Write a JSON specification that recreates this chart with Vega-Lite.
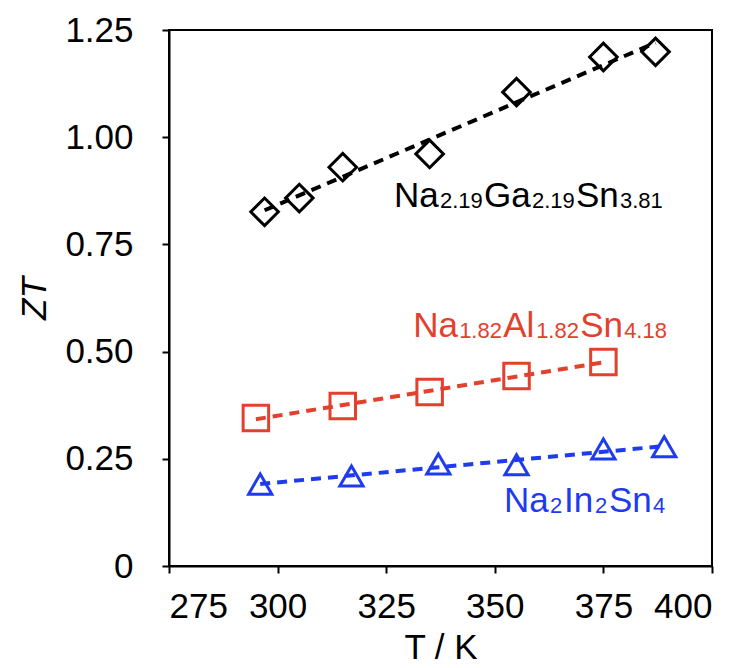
{
  "$schema": "https://vega.github.io/schema/vega-lite/v6.json",
  "autosize": "none",
  "width": 543,
  "height": 536,
  "padding": {"left": 169, "top": 30, "right": 33, "bottom": 102},
  "background": "white",
  "config": {
    "view": {"stroke": "black", "strokeWidth": 2},
    "font": "Liberation Sans",
    "text": {"font": "Liberation Sans", "align": "left", "baseline": "alphabetic"},
    "axis": {
      "grid": false,
      "domainColor": "black",
      "domainWidth": 2,
      "tickColor": "black",
      "tickWidth": 2,
      "tickSize": 7,
      "labelFont": "Liberation Sans",
      "labelFontSize": 35,
      "labelColor": "black",
      "titleFont": "Liberation Sans",
      "titleFontSize": 35,
      "titleFontWeight": "normal",
      "titleColor": "black"
    }
  },
  "datasets": {
    "pts": [
      {"s": "Ga", "T": 297, "ZT": 0.826},
      {"s": "Ga", "T": 305, "ZT": 0.858},
      {"s": "Ga", "T": 315, "ZT": 0.930},
      {"s": "Ga", "T": 335, "ZT": 0.961},
      {"s": "Ga", "T": 355, "ZT": 1.105},
      {"s": "Ga", "T": 375, "ZT": 1.187},
      {"s": "Ga", "T": 387, "ZT": 1.199},
      {"s": "Al", "T": 295, "ZT": 0.345},
      {"s": "Al", "T": 315, "ZT": 0.373},
      {"s": "Al", "T": 335, "ZT": 0.406},
      {"s": "Al", "T": 355, "ZT": 0.443},
      {"s": "Al", "T": 375, "ZT": 0.476},
      {"s": "In", "T": 296, "ZT": 0.191},
      {"s": "In", "T": 317, "ZT": 0.210},
      {"s": "In", "T": 337, "ZT": 0.238},
      {"s": "In", "T": 355, "ZT": 0.236},
      {"s": "In", "T": 375, "ZT": 0.273},
      {"s": "In", "T": 389, "ZT": 0.278}
    ]
  },
  "encoding": {
    "x": {
      "field": "T", "type": "quantitative",
      "scale": {"domain": [275, 400], "nice": false, "zero": false},
      "axis": {"values": [275, 300, 325, 350, 375, 400], "title": "T / K", "labelPadding": 16, "titlePadding": 6}
    },
    "y": {
      "field": "ZT", "type": "quantitative",
      "scale": {"domain": [0, 1.25], "nice": false},
      "axis": {"values": [0, 0.25, 0.5, 0.75, 1, 1.25], "labelExpr": "datum.value == 0 ? '0' : format(datum.value, '.2f')", "title": "ZT", "titleFontStyle": "italic", "labelPadding": 29, "titlePadding": 12}
    },
    "color": {
      "field": "s", "type": "nominal",
      "scale": {"domain": ["Ga", "Al", "In"], "range": ["#000000", "#E2412E", "#1F3BF0"]},
      "legend": null
    }
  },
  "layer": [
    {
      "data": {"name": "pts"},
      "transform": [{"regression": "ZT", "on": "T", "groupby": ["s"]}],
      "mark": {"type": "line", "strokeDash": [10, 7], "strokeWidth": 4}
    },
    {
      "data": {"name": "pts"},
      "mark": {"type": "point", "filled": false, "strokeWidth": 3, "opacity": 1},
      "encoding": {
        "shape": {"field": "s", "type": "nominal", "scale": {"domain": ["Ga", "Al", "In"], "range": ["diamond", "square", "triangle-up"]}, "legend": null},
        "size": {"field": "s", "type": "nominal", "scale": {"domain": ["Ga", "Al", "In"], "range": [760, 540, 800]}, "legend": null}
      }
    },
    {"data": {"values": [{"s": "Ga", "T": 326.8, "ZT": 0.837, "part": "Na"}]}, "mark": {"type": "text", "fontSize": 35, "dx": 0}, "encoding": {"text": {"field": "part"}}},
    {"data": {"values": [{"s": "Ga", "T": 326.8, "ZT": 0.837, "part": "2.19"}]}, "mark": {"type": "text", "fontSize": 22, "dx": 46, "dy": 1}, "encoding": {"text": {"field": "part"}}},
    {"data": {"values": [{"s": "Ga", "T": 326.8, "ZT": 0.837, "part": "Ga"}]}, "mark": {"type": "text", "fontSize": 35, "dx": 90}, "encoding": {"text": {"field": "part"}}},
    {"data": {"values": [{"s": "Ga", "T": 326.8, "ZT": 0.837, "part": "2.19"}]}, "mark": {"type": "text", "fontSize": 22, "dx": 138, "dy": 1}, "encoding": {"text": {"field": "part"}}},
    {"data": {"values": [{"s": "Ga", "T": 326.8, "ZT": 0.837, "part": "Sn"}]}, "mark": {"type": "text", "fontSize": 35, "dx": 182}, "encoding": {"text": {"field": "part"}}},
    {"data": {"values": [{"s": "Ga", "T": 326.8, "ZT": 0.837, "part": "3.81"}]}, "mark": {"type": "text", "fontSize": 22, "dx": 226, "dy": 1}, "encoding": {"text": {"field": "part"}}},

    {"data": {"values": [{"s": "Al", "T": 331.2, "ZT": 0.534, "part": "Na"}]}, "mark": {"type": "text", "fontSize": 35, "dx": 0}, "encoding": {"text": {"field": "part"}}},
    {"data": {"values": [{"s": "Al", "T": 331.2, "ZT": 0.534, "part": "1.82"}]}, "mark": {"type": "text", "fontSize": 22, "dx": 46, "dy": 1}, "encoding": {"text": {"field": "part"}}},
    {"data": {"values": [{"s": "Al", "T": 331.2, "ZT": 0.534, "part": "Al"}]}, "mark": {"type": "text", "fontSize": 35, "dx": 90}, "encoding": {"text": {"field": "part"}}},
    {"data": {"values": [{"s": "Al", "T": 331.2, "ZT": 0.534, "part": "1.82"}]}, "mark": {"type": "text", "fontSize": 22, "dx": 123, "dy": 1}, "encoding": {"text": {"field": "part"}}},
    {"data": {"values": [{"s": "Al", "T": 331.2, "ZT": 0.534, "part": "Sn"}]}, "mark": {"type": "text", "fontSize": 35, "dx": 167}, "encoding": {"text": {"field": "part"}}},
    {"data": {"values": [{"s": "Al", "T": 331.2, "ZT": 0.534, "part": "4.18"}]}, "mark": {"type": "text", "fontSize": 22, "dx": 211, "dy": 1}, "encoding": {"text": {"field": "part"}}},

    {"data": {"values": [{"s": "In", "T": 352.1, "ZT": 0.126, "part": "Na"}]}, "mark": {"type": "text", "fontSize": 35, "dx": 0}, "encoding": {"text": {"field": "part"}}},
    {"data": {"values": [{"s": "In", "T": 352.1, "ZT": 0.126, "part": "2"}]}, "mark": {"type": "text", "fontSize": 22, "dx": 46, "dy": 1}, "encoding": {"text": {"field": "part"}}},
    {"data": {"values": [{"s": "In", "T": 352.1, "ZT": 0.126, "part": "In"}]}, "mark": {"type": "text", "fontSize": 35, "dx": 60}, "encoding": {"text": {"field": "part"}}},
    {"data": {"values": [{"s": "In", "T": 352.1, "ZT": 0.126, "part": "2"}]}, "mark": {"type": "text", "fontSize": 22, "dx": 91, "dy": 1}, "encoding": {"text": {"field": "part"}}},
    {"data": {"values": [{"s": "In", "T": 352.1, "ZT": 0.126, "part": "Sn"}]}, "mark": {"type": "text", "fontSize": 35, "dx": 105}, "encoding": {"text": {"field": "part"}}},
    {"data": {"values": [{"s": "In", "T": 352.1, "ZT": 0.126, "part": "4"}]}, "mark": {"type": "text", "fontSize": 22, "dx": 149, "dy": 1}, "encoding": {"text": {"field": "part"}}}
  ]
}
